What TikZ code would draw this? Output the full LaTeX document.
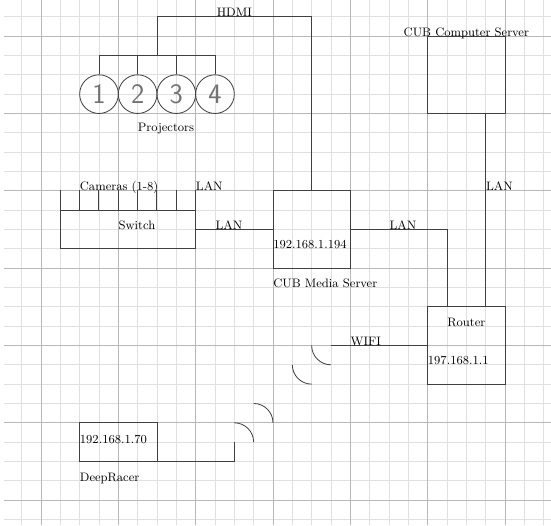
\documentclass[tikz,border=0pt]{standalone}
\usetikzlibrary{arrows,shapes}
\tikzstyle{minorgrid}=[draw=black!12,line width=0.5pt]
\tikzstyle{majorgrid}=[draw=black!28,line width=0.6pt]
\tikzstyle{wire}=[draw=black!75,line width=0.6pt]
\tikzstyle{dev}=[rectangle,draw=black!75,line width=0.6pt,inner sep=0pt]
\tikzstyle{proj}=[circle,draw=black!75,line width=0.6pt,minimum size=1cm,inner sep=0pt,font=\huge\sffamily,text=black!55]
\tikzstyle{txt}=[font=\small,inner sep=0pt]

\begin{document}
\begin{tikzpicture}[x=0.5cm,y=0.5cm]
\useasboundingbox (-2.12,-1.29) rectangle (26.38,25.87);
\draw[minorgrid,step=0.5cm] (-1.9,-1.29) grid (26.38,25.87);
\draw[majorgrid,step=2cm] (-1.9,-1.29) grid (26.38,25.87);

% projectors
\foreach \n/\x in {1/3,2/5,3/7,4/9}
  \node[proj] (p\n) at (\x,21) {\n};
\coordinate (bus) at (6,23);
\coordinate (hdmi) at (6,25);
\draw[wire] (p1.north) -- ++(0,1) -| (p4.north);
\foreach \n in {2,3}
  \draw[wire] (p\n.north) -- (p\n.north |- bus);
\node[txt,anchor=west] (projlbl) at (5,19.2) {Projectors};

% devices
\node[dev,minimum width=3.5cm,minimum height=1cm] (switch) at (4.5,14) {};
\node[dev,minimum width=2cm,minimum height=2cm] (media) at (14,14) {};
\node[dev,minimum width=2cm,minimum height=2cm] (router) at (22,8) {};
\node[dev,minimum width=2cm,minimum height=2cm] (comp) at (22,22) {};
\node[dev,minimum width=2cm,minimum height=1cm] (racer) at (4,3) {};

\node[txt,anchor=west] (switchlbl) at (4,14.2) {Switch};
\node[txt,anchor=base west] (camlbl) at (2,16) {Cameras (1-8)};
\node[txt,anchor=base west] (camlan) at (8,16) {LAN};
\node[txt,anchor=west] (mediaip) at (12,13.2) {192.168.1.194};
\node[txt,anchor=west] (medialbl) at (12,11.2) {CUB Media Server};
\node[txt] (routerlbl) at (22,9.2) {Router};
\node[txt,anchor=west] (routerip) at (20,7.2) {197.168.1.1};
\node[txt,anchor=base] (complbl) at (22,24) {CUB Computer Server};
\node[txt,anchor=west] (racerip) at (2,3.14) {192.168.1.70};
\node[txt,anchor=west] (racerlbl) at (2,1.12) {DeepRacer};

% cameras
\foreach \i in {0,...,7}
  \draw[wire] ([xshift=\i*0.5cm]switch.north west) -- ++(0,1);

% links
\draw[wire] (media.north) |- node[txt,pos=0.75,anchor=base]{HDMI} (hdmi) -- (bus);
\draw[wire] (switch.east) -- node[txt,pos=0.25,anchor=base west]{LAN} (media.west);
\draw[wire] (media.east) -| node[txt,pos=0.2,anchor=base west]{LAN} ([xshift=-0.5cm]router.north);
\draw[wire] ([xshift=0.5cm]comp.south) -- node[txt,pos=0.4,anchor=base west]{LAN} ([xshift=0.5cm]router.north);
\coordinate (wifi) at (15,8);
\draw[wire] (router.west) -- node[txt,pos=0.8,anchor=base west]{WIFI} (wifi);

% wifi waves
\draw[wire] (14,8) arc (180:270:0.5cm);
\draw[wire] (13,7) arc (180:270:0.5cm);
\draw[wire] (11,5) arc (90:0:0.5cm);
\draw[wire] (10,4) arc (90:0:0.5cm);

\coordinate (carant) at (10,3);
\draw[wire] (racer.south east) -| (carant);
\end{tikzpicture}
\end{document}
